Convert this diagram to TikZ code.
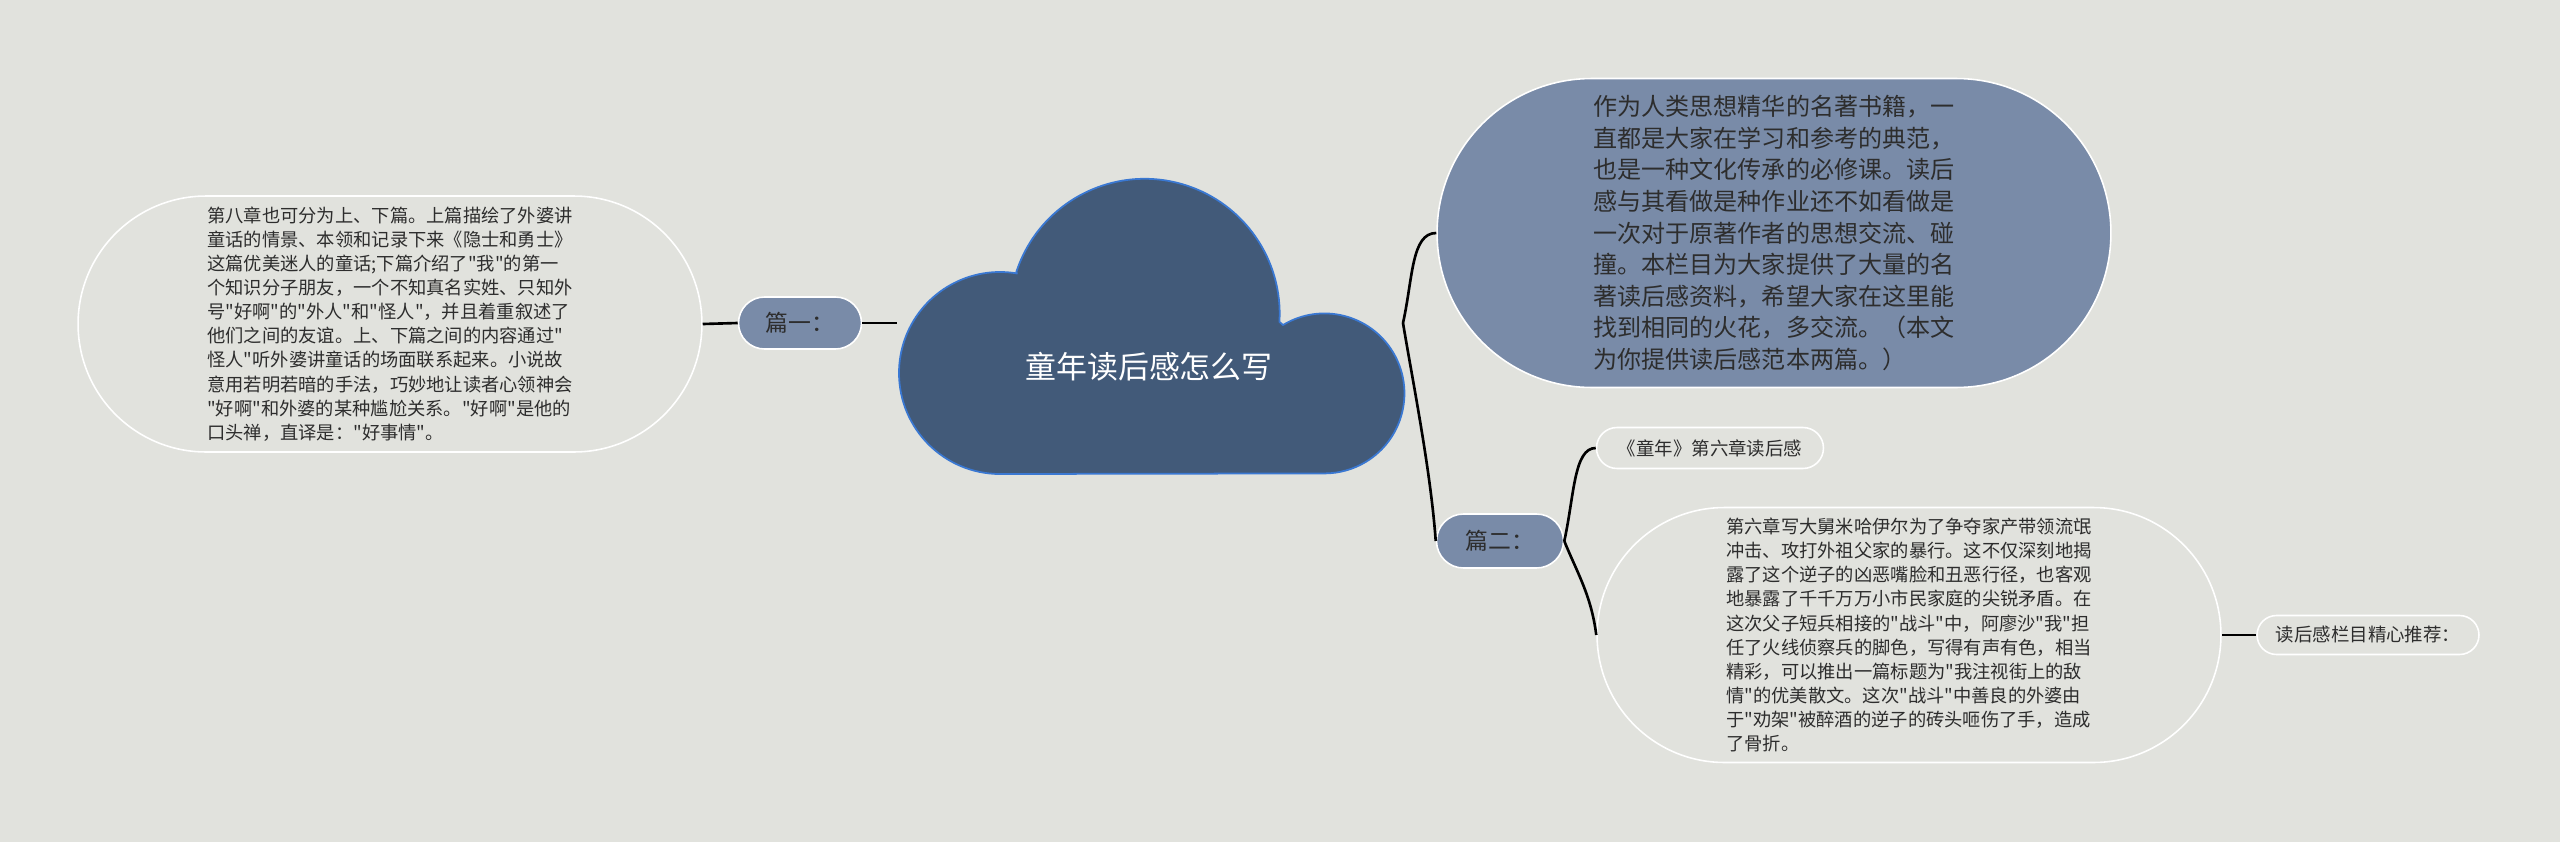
\documentclass[tikz,border=0pt]{standalone}
\usepackage{fontspec}
\setmainfont{Noto Sans CJK SC}[Ligatures=TeXOff]
\usepackage{xcolor}
\usepackage{tikz}
\definecolor{paperbg}{RGB}{225,226,221}
\definecolor{cloudfill}{RGB}{66,90,121}
\definecolor{cloudline}{RGB}{58,120,210}
\definecolor{topicfill}{RGB}{121,139,168}
\definecolor{inkgray}{RGB}{45,45,45}
\tikzset{
  mapnode/.style={draw=white, line width=0.9pt, rounded corners=#1, inner sep=0pt, align=left, text=inkgray},
  topicbox/.style={mapnode=#1, fill=topicfill},
  leafbox/.style={mapnode=#1},
  notefont/.style={font=\fontsize{10.4}{13.7}\selectfont},
  labelfont/.style={font=\fontsize{10.5}{12}\selectfont},
  branch/.style={line width=1.5pt, black}
}

\begin{document}
\begin{tikzpicture}[x=0.02cm, y=-0.02cm]
  \fill[paperbg] (0,0) rectangle (2560,842);
  \useasboundingbox (0,0) rectangle (2560,842);

  % central cloud
  \draw[fill=cloudfill, draw=cloudline, line width=1pt]
    (1000,474) arc[start angle=90, end angle=280, radius=101]
    -- (1016,273) arc[start angle=197.6, end angle=363.4, radius=135]
    -- (1283,325) arc[start angle=238.8, end angle=450, radius=80]
    -- cycle;
  \node[text=white, font=\fontsize{17.6}{20}\selectfont] (title) at (1149,367) {童年读后感怎么写};
  \coordinate (cloudW) at (897,323);
  \coordinate (cloudE) at (1403,323);

  % left side
  \node[topicbox=0.52cm, minimum width=2.46cm, minimum height=1.04cm, align=center, font=\fontsize{13}{15}\selectfont] (part1) at (800,323) {篇一：};
  \node[leafbox=2.56cm, minimum width=12.48cm, minimum height=5.12cm, notefont] (ch8) at (390,324) {第八章也可分为上、下篇。上篇描绘了外婆讲\\
童话的情景、本领和记录下来《隐士和勇士》\\
这篇优美迷人的童话;下篇介绍了"我"的第一\\
个知识分子朋友，一个不知真名实姓、只知外\\
号"好啊"的"外人"和"怪人"，并且着重叙述了\\
他们之间的友谊。上、下篇之间的内容通过"\\
怪人"听外婆讲童话的场面联系起来。小说故\\
意用若明若暗的手法，巧妙地让读者心领神会\\
"好啊"和外婆的某种尴尬关系。"好啊"是他的\\
口头禅，直译是："好事情"。};

  % right side
  \node[topicbox=3.09cm, minimum width=13.48cm, minimum height=6.18cm, font=\fontsize{13.7}{18}\selectfont] (intro) at (1774,233) {作为人类思想精华的名著书籍，一\\
直都是大家在学习和参考的典范，\\
也是一种文化传承的必修课。读后\\
感与其看做是种作业还不如看做是\\
一次对于原著作者的思想交流、碰\\
撞。本栏目为大家提供了大量的名\\
著读后感资料，希望大家在这里能\\
找到相同的火花，多交流。（本文\\
为你提供读后感范本两篇。）};
  \node[topicbox=0.54cm, minimum width=2.54cm, minimum height=1.08cm, align=center, font=\fontsize{13}{15}\selectfont] (part2) at (1500,541) {篇二：};
  \node[leafbox=0.41cm, minimum width=4.54cm, minimum height=0.82cm, align=center, labelfont] (title6) at (1710,448) {《童年》第六章读后感};
  \node[leafbox=2.55cm, minimum width=12.48cm, minimum height=5.10cm, notefont] (ch6) at (1909,635) {第六章写大舅米哈伊尔为了争夺家产带领流氓\\
冲击、攻打外祖父家的暴行。这不仅深刻地揭\\
露了这个逆子的凶恶嘴脸和丑恶行径，也客观\\
地暴露了千千万万小市民家庭的尖锐矛盾。在\\
这次父子短兵相接的"战斗"中，阿廖沙"我"担\\
任了火线侦察兵的脚色，写得有声有色，相当\\
精彩，可以推出一篇标题为"我注视街上的敌\\
情"的优美散文。这次"战斗"中善良的外婆由\\
于"劝架"被醉酒的逆子的砖头咂伤了手，造成\\
了骨折。};
  \node[leafbox=0.39cm, minimum width=4.44cm, minimum height=0.78cm, align=center, labelfont] (tips) at (2368,635) {读后感栏目精心推荐：};

  % connectors
  \draw[branch] (ch8.east) -- (part1.west);
  \draw[branch] (part1.east) -- (cloudW);
  \draw[branch] (cloudE) .. controls +(10,-45) and +(-25,0) .. (intro.west);
  \draw[branch] (cloudE) .. controls +(10,60) and +(-5,-70) .. (part2.west);
  \draw[branch] (part2.east) .. controls +(10,-45) and +(-22,0) .. (title6.west);
  \draw[branch] (part2.east) .. controls +(12,30) and +(-5,-40) .. (ch6.west);
  \draw[branch] (ch6.east) -- (tips.west);
\end{tikzpicture}
\end{document}
